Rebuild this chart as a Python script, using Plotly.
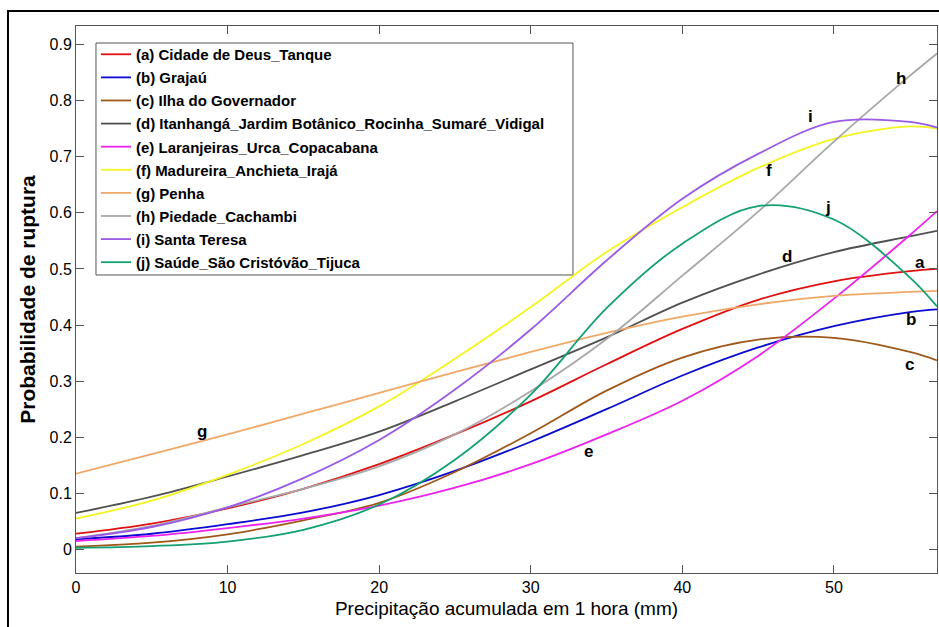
import plotly.graph_objects as go

x_mm = [0, 5, 10, 15, 20, 25, 30, 35, 40, 45, 50, 55, 56.8]

names = [
    "(a) Cidade de Deus_Tanque",
    "(b) Grajaú",
    "(c) Ilha do Governador",
    "(d) Itanhangá_Jardim Botânico_Rocinha_Sumaré_Vidigal",
    "(e) Laranjeiras_Urca_Copacabana",
    "(f) Madureira_Anchieta_Irajá",
    "(g) Penha",
    "(h) Piedade_Cachambi",
    "(i) Santa Teresa",
    "(j) Saúde_São Cristóvão_Tijuca",
]

a_vals = [0.028, 0.046, 0.073, 0.108, 0.152, 0.205, 0.264, 0.330, 0.393, 0.445, 0.478, 0.496, 0.500]
b_vals = [0.018, 0.028, 0.045, 0.066, 0.097, 0.140, 0.192, 0.250, 0.310, 0.360, 0.398, 0.423, 0.428]
c_vals = [0.005, 0.012, 0.027, 0.052, 0.083, 0.138, 0.207, 0.283, 0.342, 0.374, 0.377, 0.352, 0.337]
d_vals = [0.065, 0.094, 0.130, 0.168, 0.210, 0.264, 0.321, 0.378, 0.440, 0.490, 0.530, 0.558, 0.568]
e_vals = [0.015, 0.024, 0.038, 0.055, 0.078, 0.110, 0.152, 0.205, 0.265, 0.345, 0.447, 0.560, 0.603]
f_vals = [0.055, 0.087, 0.133, 0.188, 0.255, 0.340, 0.432, 0.530, 0.610, 0.680, 0.732, 0.754, 0.750]
g_vals = [0.135, 0.170, 0.205, 0.242, 0.279, 0.316, 0.352, 0.386, 0.415, 0.437, 0.452, 0.459, 0.461]
h_vals = [0.020, 0.042, 0.075, 0.108, 0.148, 0.205, 0.282, 0.375, 0.488, 0.602, 0.727, 0.844, 0.884]
i_vals = [0.020, 0.040, 0.075, 0.127, 0.195, 0.285, 0.392, 0.515, 0.625, 0.705, 0.762, 0.762, 0.752]
j_vals = [0.003, 0.006, 0.014, 0.035, 0.080, 0.160, 0.276, 0.430, 0.545, 0.612, 0.588, 0.485, 0.433]

series = [a_vals, b_vals, c_vals, d_vals, e_vals, f_vals, g_vals, h_vals, i_vals, j_vals]
colors = ["#e01010", "#0a0ad0", "#a0581a", "#505050", "#ee22ee",
          "#f4f420", "#f0a868", "#a8a8a8", "#9a5ae6", "#14a070"]

label_text = ["a", "b", "c", "d", "e", "f", "g", "h", "i", "j"]
label_x = [55.7, 55.1, 55.0, 46.9, 33.8, 45.7, 8.3, 54.4, 48.45, 49.6]
label_y = [0.512, 0.41, 0.33, 0.522, 0.175, 0.675, 0.21, 0.84, 0.771, 0.61]

FONT = "Liberation Sans, Arial, sans-serif"

fig = go.Figure()
for nm, ys, col in zip(names, series, colors):
    fig.add_trace(go.Scatter(
        x=x_mm, y=ys, name=nm, mode="lines", legendgroup=nm,
        line=dict(color=col, width=1.8, shape="spline", smoothing=1.0),
    ))

for t, lx, ly in zip(label_text, label_x, label_y):
    fig.add_annotation(x=lx, y=ly, text="<b>%s</b>" % t, showarrow=False,
                       font=dict(family=FONT, size=17, color="black"))

# legend box
fig.add_shape(type="rect", xref="paper", yref="paper",
              x0=0.0232, y0=0.5448, x1=0.5772, y1=0.9689,
              line=dict(color="#555555", width=1), fillcolor="white", layer="below")
# outer figure frame
fig.add_shape(type="rect", xref="paper", yref="paper",
              x0=-0.079, y0=-0.2, x1=1.05, y1=1.0274,
              line=dict(color="black", width=2), fillcolor="rgba(0,0,0,0)", layer="above")

fig.update_layout(
    width=939, height=627,
    margin=dict(l=76, r=2, t=26, b=54),
    paper_bgcolor="white", plot_bgcolor="white",
    font=dict(family=FONT, color="black"),
    showlegend=True,
    legend=dict(
        x=0.0232, y=0.978, xanchor="left", yanchor="top",
        bgcolor="rgba(0,0,0,0)", borderwidth=0,
        font=dict(family=FONT, size=15, color="black", weight="bold"),
        tracegroupgap=0.6, itemwidth=30,
    ),
    xaxis=dict(
        range=[0, 56.8], tickvals=[0, 10, 20, 30, 40, 50],
        ticks="inside", ticklen=8, tickcolor="#555555",
        showline=True, linecolor="#555555", linewidth=1, mirror="ticks",
        showgrid=False, zeroline=False, automargin=False,
        tickfont=dict(family=FONT, size=16, color="black"),
        title=dict(text="Precipitação acumulada em 1 hora (mm)",
                   font=dict(family=FONT, size=19, color="black"), standoff=6),
    ),
    yaxis=dict(
        range=[-0.042, 0.933], tickvals=[0, 0.1, 0.2, 0.3, 0.4, 0.5, 0.6, 0.7, 0.8, 0.9],
        ticktext=["0", "0.1", "0.2", "0.3", "0.4", "0.5", "0.6", "0.7", "0.8", "0.9"],
        ticks="inside", ticklen=8, tickcolor="#555555",
        showline=True, linecolor="#555555", linewidth=1, mirror="ticks",
        showgrid=False, zeroline=False, automargin=False,
        tickfont=dict(family=FONT, size=16, color="black"),
        title=dict(text="<b>Probabilidade de ruptura</b>",
                   font=dict(family=FONT, size=21, color="black"), standoff=8),
    ),
)

fig.write_html("out.html", config={"displayModeBar": False},
               post_script="document.body.style.margin='0px';document.body.style.padding='0px';")
